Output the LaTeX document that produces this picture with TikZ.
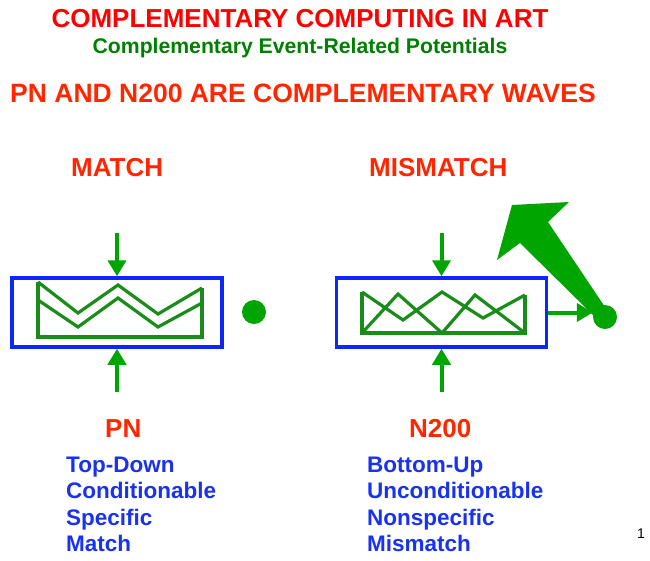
\documentclass[tikz,border=0pt]{standalone}
\usepackage{fontspec}
\setmainfont{Liberation Sans}
\usetikzlibrary{arrows.meta}

\definecolor{ttlred}{RGB}{255,0,0}
\definecolor{hdred}{RGB}{255,38,0}
\definecolor{subgreen}{RGB}{0,128,0}
\definecolor{wordblue}{RGB}{25,50,240}
\definecolor{boxblue}{RGB}{10,40,250}
\definecolor{arrgreen}{RGB}{0,165,0}
\definecolor{wavegreen}{RGB}{25,140,25}

\tikzset{
  heading/.style={font=\bfseries\fontsize{26}{30}\selectfont, text=hdred, anchor=base, inner sep=0pt},
  listword/.style={font=\bfseries\fontsize{22.5}{27}\selectfont, text=wordblue, anchor=base west, inner sep=0pt},
  blkbox/.style={draw=boxblue, line width=3.5pt, minimum width=210pt, minimum height=69pt, inner sep=0pt},
  dotnode/.style={circle, fill=arrgreen, minimum size=24pt, inner sep=0pt},
  arr/.style={-{Triangle[width=18pt,length=16pt]}, line width=4pt, draw=arrgreen},
  wave/.style={draw=wavegreen, line width=3.2pt, line join=miter}
}

\begin{document}
\begin{tikzpicture}[x=1pt, y=-1pt]
\useasboundingbox (0,0) rectangle (650,560);

\node[font=\bfseries\fontsize{26}{30}\selectfont, text=ttlred, anchor=base, inner sep=0pt] (title) at (300,27) {COMPLEMENTARY COMPUTING IN ART};
\node[font=\bfseries\fontsize{21.2}{25}\selectfont, text=subgreen, anchor=base, inner sep=0pt] (subtitle) at (300,53) {Complementary Event-Related Potentials};
\node[heading, font=\bfseries\fontsize{26.5}{30}\selectfont] (claim) at (303,102) {PN AND N200 ARE COMPLEMENTARY WAVES};

\node[heading, anchor=base west] (matchlbl) at (71,176) {MATCH};
\node[heading, anchor=base west] (mismatchlbl) at (369,176) {MISMATCH};

\node[blkbox] (matchbox) at (117,312.5) {};
\node[blkbox] (mismatchbox) at (441.5,312.5) {};

\draw[wave] (38,282) -- (38,337) -- (202,337) -- (202,288);
\draw[wave] (38,282) -- (78,313) -- (118,285) -- (158,314) -- (202,288);
\draw[wave] (38,300) -- (78,327) -- (118,298) -- (158,327) -- (202,303);

\draw[wave] (362,292) -- (362,333) -- (525,333) -- (525,295);
\draw[wave] (362,292) -- (403,320) -- (442,292) -- (483,318) -- (525,295);
\draw[wave] (362,333) -- (398,294) -- (442,333) -- (475,295) -- (525,333);

\coordinate (pntop) at (117,233);
\coordinate (pnbot) at (117,392);
\coordinate (n2top) at (441.5,233);
\coordinate (n2bot) at (441.5,392);
\draw[arr] (pntop) -- (matchbox.north);
\draw[arr] (pnbot) -- (matchbox.south);
\draw[arr] (n2top) -- (mismatchbox.north);
\draw[arr] (n2bot) -- (mismatchbox.south);

\node[dotnode] (matchdot) at (254,312) {};
\node[dotnode] (mismatchdot) at (605,317) {};
\draw[arr] (mismatchbox.east) -- (mismatchbox.east -| mismatchdot.west);

\fill[arrgreen] (512,205) -- (569,202) -- (548,222) -- (607,310) -- (596,318) -- (520,243) -- (497,260) -- cycle;

\node[heading, anchor=base west] (pnlbl) at (105,437) {PN};
\node[heading, anchor=base west] (n2lbl) at (409,437) {N200};

\foreach \w [count=\i] in {Top-Down, Conditionable, Specific, Match}
  \node[listword] (pnword\i) at (66,{445.5+26.6*\i}) {\w};
\foreach \w [count=\i] in {Bottom-Up, Unconditionable, Nonspecific, Mismatch}
  \node[listword] (n2word\i) at (367,{445.5+26.6*\i}) {\w};

\node[font=\fontsize{14}{16}\selectfont, anchor=base, inner sep=0pt] (pagenum) at (641,538) {1};
\end{tikzpicture}
\end{document}
